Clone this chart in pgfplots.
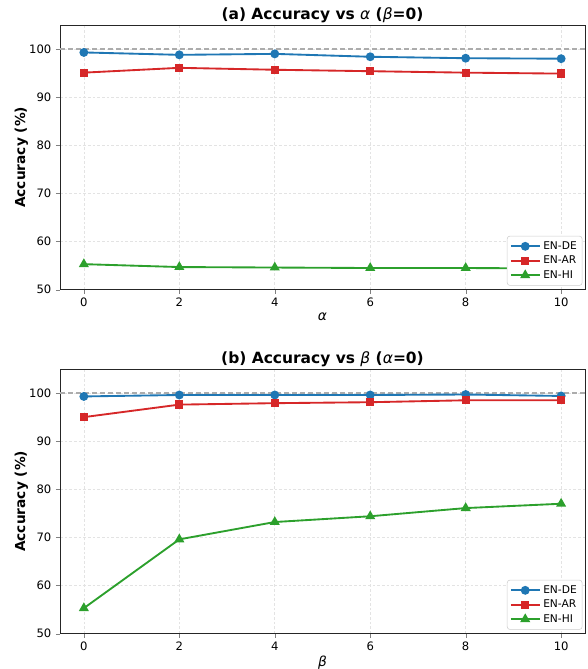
\documentclass[border=0pt]{standalone}
\usepackage{fontspec}
\setmainfont{DejaVu Sans}
\usepackage{pgfplots}
\pgfplotsset{compat=1.18}
\definecolor{cde}{HTML}{1F77B4}
\definecolor{car}{HTML}{D62728}
\definecolor{chi}{HTML}{2CA02C}
\newcommand{\gal}{{\normalfont\itshape α}}
\newcommand{\gbe}{{\normalfont\itshape β}}

\pgfplotsset{
  legend image code/.code={%
    \draw[mark repeat=2,mark phase=2,#1] plot coordinates {(0cm,0cm) (0.38cm,0cm) (0.76cm,0cm)};},
  accstyle/.style={
    scale only axis, width=393.75pt, height=198.5pt,
    xmin=-0.5, xmax=10.5, ymin=50, ymax=105,
    xtick={0,2,4,6,8,10}, ytick={50,60,70,80,90,100},
    /pgf/number format/assume math mode=true,
    tick label style={font=\fontsize{8.7}{10}\selectfont},
    tick align=outside, xtick pos=bottom, ytick pos=left,
    major tick length=3pt,
    axis line style={black!85, line width=0.7pt},
    grid=major,
    major grid style={gray!22, dash pattern=on 2pt off 1.5pt, line width=0.5pt},
    title style={font=\fontsize{11.6}{13}\selectfont\bfseries, yshift=-8pt},
    label style={font=\fontsize{10.3}{12}\selectfont},
    ylabel={\bfseries Accuracy (\%)},
    ylabel style={yshift=-6pt},
    xlabel style={yshift=3pt},
    legend style={font=\fontsize{8}{9.5}\selectfont, rounded corners=2pt,
      draw=gray!40, fill=white,
      inner sep=2pt, row sep=-0.5pt, at={(0.995,0.015)}, anchor=south east},
    legend cell align=left,
  },
  de/.style={cde, line width=1.4pt, mark=*, mark size=2.6pt},
  ar/.style={car, line width=1.4pt, mark=square*, mark size=2.4pt},
  hi/.style={chi, line width=1.4pt, mark=triangle*, mark size=3pt},
  refl/.style={gray!65, dash pattern=on 4pt off 2pt, line width=0.9pt, forget plot},
}

\begin{document}
\begin{tikzpicture}
\path[use as bounding box] (-45pt,18.75pt) rectangle (395.25pt,-483pt);
\begin{axis}[accstyle, anchor=north west, at={(0,0)},
  title={(a) Accuracy vs \gal{} (\gbe{}=0)}, xlabel={\gal}]
\addplot[refl] coordinates {(-0.5,100) (10.5,100)};
\addplot[de] coordinates {(0,99.3) (2,98.8) (4,99.0) (6,98.4) (8,98.1) (10,98.0)};
\addlegendentry{EN-DE}
\addplot[ar] coordinates {(0,95.1) (2,96.1) (4,95.7) (6,95.4) (8,95.1) (10,94.9)};
\addlegendentry{EN-AR}
\addplot[hi] coordinates {(0,55.3) (2,54.7) (4,54.6) (6,54.5) (8,54.5) (10,54.4)};
\addlegendentry{EN-HI}
\end{axis}
\begin{axis}[accstyle, anchor=north west, at={(0,-258pt)},
  title={(b) Accuracy vs \gbe{} (\gal{}=0)}, xlabel={\gbe}]
\addplot[refl] coordinates {(-0.5,100) (10.5,100)};
\addplot[de] coordinates {(0,99.3) (2,99.6) (4,99.6) (6,99.6) (8,99.7) (10,99.4)};
\addlegendentry{EN-DE}
\addplot[ar] coordinates {(0,95.0) (2,97.6) (4,97.9) (6,98.1) (8,98.5) (10,98.5)};
\addlegendentry{EN-AR}
\addplot[hi] coordinates {(0,55.3) (2,69.6) (4,73.2) (6,74.4) (8,76.1) (10,77.0)};
\addlegendentry{EN-HI}
\end{axis}
\end{tikzpicture}
\end{document}
